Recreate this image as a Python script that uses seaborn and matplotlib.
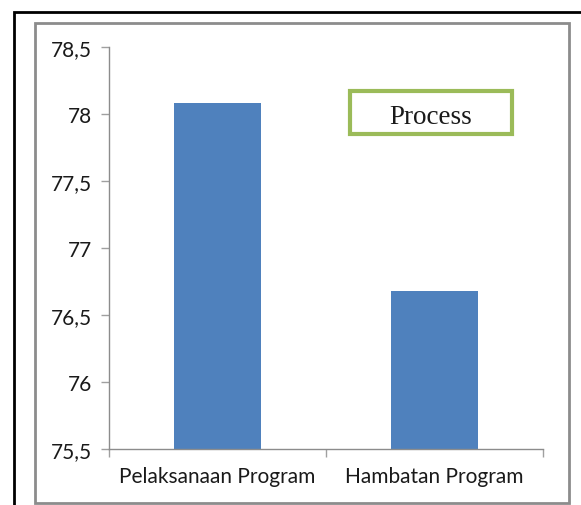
import matplotlib
matplotlib.use("Agg")
import matplotlib.pyplot as plt
import seaborn as sns
import pandas as pd
from matplotlib.patches import Rectangle
from matplotlib.ticker import FuncFormatter, FixedLocator

categories = ["Pelaksanaan Program", "Hambatan Program"]
values = [78.08, 76.68]
yticks = [75.5, 76.0, 76.5, 77.0, 77.5, 78.0, 78.5]
title_box = "Process"

sns.set_theme(style="white")
plt.rcParams['font.family'] = ['Lato', 'DejaVu Sans']

W, H = 581, 506
fig = plt.figure(figsize=(W / 100, H / 100), dpi=100)

def fx(px):
    return px / W

def fy(py):
    return 1 - py / H

# axes: x 109->543, y 48->450
ax = fig.add_axes([fx(109), fy(450), fx(543) - fx(109), fy(48) - fy(450)])

df = pd.DataFrame({"cat": categories, "val": values})
sns.barplot(data=df, x="cat", y="val", color="#4F81BD", width=0.4, ax=ax,
            saturation=1, edgecolor="none")

ax.set_ylim(75.5, 78.5)
ax.set_xlim(-0.5, 1.5)
ax.yaxis.set_major_locator(FixedLocator(yticks))
ax.yaxis.set_major_formatter(FuncFormatter(lambda v, p: ("%g" % v).replace(".", ",")))
ax.set_xlabel("")
ax.set_ylabel("")

for s in ["top", "right"]:
    ax.spines[s].set_visible(False)
for s in ["left", "bottom"]:
    ax.spines[s].set_color("#8C8C8C")
    ax.spines[s].set_linewidth(1.0)

ax.tick_params(axis="y", which="major", direction="out", length=6, width=1,
               color="#A0A0A0", labelsize=15, labelcolor="#1a1a1a", pad=6, left=True)
ax.tick_params(axis="x", which="major", length=0, labelsize=15,
               labelcolor="#1a1a1a", pad=12)
ax.xaxis.set_minor_locator(FixedLocator([-0.5, 0.5, 1.5]))
ax.tick_params(axis="x", which="minor", direction="out", length=6, width=1,
               color="#A0A0A0", bottom=True)

# Borders
fig.patches.append(Rectangle((fx(13.5), fy(600)), fx(700) - fx(13.5), fy(12.5) - fy(600),
                             transform=fig.transFigure, fill=False,
                             edgecolor="black", linewidth=2, zorder=0))
fig.patches.append(Rectangle((fx(34.5), fy(504)), fx(569) - fx(34.5), fy(23.5) - fy(504),
                             transform=fig.transFigure, fill=False,
                             edgecolor="#8C8C8C", linewidth=2, zorder=0))

# Process box
fig.patches.append(Rectangle((fx(350), fy(135)), fx(512) - fx(350), fy(92) - fy(135),
                             transform=fig.transFigure, fill=True, facecolor="white",
                             edgecolor="#9BBB59", linewidth=3, zorder=5))
fig.text(fx(431), fy(117), title_box, ha="center", va="center",
         family=["Liberation Serif"], fontsize=19.5, color="#1a1a1a", zorder=6)

fig.savefig("out.png", dpi=100)
